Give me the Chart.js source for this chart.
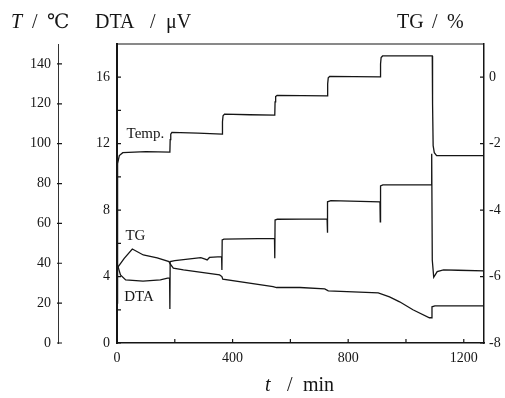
<!DOCTYPE html>
<html>
<head>
<meta charset="utf-8">
<script src="https://cdn.jsdelivr.net/npm/chart.js@4.4.0/dist/chart.umd.min.js"></script>
<style>
  html, body { margin: 0; padding: 0; background: #fff; }
</style>
</head>
<body>
<canvas id="chart" width="505" height="398"></canvas>
<script>
// ===== Data =====
// Temperature programme (left outer axis, degC)
const tempTime   = [0, 1, 3, 8, 20, 100, 183, 184, 186, 190, 280, 364, 365, 367, 372, 460, 546, 547, 549, 554, 640, 728, 729, 731, 736, 820, 911, 912, 914, 919, 1000, 1091, 1092, 1094, 1098, 1106, 1270];
const tempValues = [20, 70, 90, 94, 95.5, 96, 95.8, 102, 104.8, 105.7, 105.3, 104.8, 111, 114, 114.8, 114.5, 114.3, 121, 123.6, 124.2, 124.1, 124, 130, 133, 133.7, 133.6, 133.5, 140, 143.2, 144, 144, 144, 120, 99, 95.5, 94, 94];

// DTA signal (left inner axis, uV)
const dtaTime   = [0, 12, 30, 90, 150, 175, 182, 183, 184, 200, 290, 305, 312, 320, 362, 363, 364, 370, 545, 546, 547, 555, 727, 728, 729, 740, 910, 911, 912, 920, 1088, 1089, 1091, 1096, 1108, 1130, 1180, 1270];
const dtaValues = [4.8, 4.1, 3.8, 3.72, 3.8, 3.9, 3.9, 2.05, 4.9, 4.96, 5.14, 5.05, 5.0, 5.15, 5.2, 4.4, 6.2, 6.25, 6.3, 5.1, 7.4, 7.45, 7.47, 6.64, 8.5, 8.57, 8.5, 7.3, 9.45, 9.52, 9.52, 11.4, 5.0, 3.96, 4.3, 4.4, 4.38, 4.34];

// TG signal (right axis, %)
const tgTime   = [0, 25, 53, 91, 139, 180, 184, 195, 230, 355, 363, 366, 540, 552, 633, 719, 731, 904, 943, 978, 1024, 1081, 1088, 1090, 1100, 1270];
const tgValues = [-5.75, -5.45, -5.17, -5.35, -5.44, -5.55, -5.62, -5.75, -5.8, -5.95, -6.0, -6.08, -6.3, -6.33, -6.33, -6.37, -6.43, -6.49, -6.61, -6.76, -7.0, -7.24, -7.24, -6.91, -6.88, -6.88];

// Ticks
const timeTicks   = [0, 200, 400, 600, 800, 1000, 1200];
const timeLabels  = [0, 400, 800, 1200];
const tempTicks   = [0, 20, 40, 60, 80, 100, 120, 140];
const dtaTicks    = [0, 2, 4, 6, 8, 10, 12, 14, 16];
const dtaLabels   = [0, 4, 8, 12, 16];
const tgTicks     = [-8, -6, -4, -2, 0];

const ink = '#151515';
const serif = '"Liberation Serif", "DejaVu Serif", serif';

function toPoints(xs, ys) {
  return xs.map((x, i) => ({ x: x, y: ys[i] }));
}

// ===== Frame, inner ticks, titles and curve labels =====
const decorations = {
  id: 'decorations',
  afterDraw(chart) {
    const { ctx, chartArea, scales } = chart;
    ctx.save();
    ctx.strokeStyle = ink;
    ctx.lineWidth = 1.2;

    // top edge of the frame
    ctx.beginPath();
    ctx.moveTo(chartArea.left, chartArea.top);
    ctx.lineTo(chartArea.right, chartArea.top);
    ctx.stroke();

    // inner tick marks
    ctx.beginPath();
    timeTicks.forEach(v => {
      const px = scales.x.getPixelForValue(v);
      ctx.moveTo(px, chartArea.bottom);
      ctx.lineTo(px, chartArea.bottom - 4);
    });
    dtaTicks.forEach(v => {
      const py = scales.yDTA.getPixelForValue(v);
      ctx.moveTo(chartArea.left, py);
      ctx.lineTo(chartArea.left + 4, py);
    });
    tgTicks.forEach(v => {
      const py = scales.yTG.getPixelForValue(v);
      ctx.moveTo(chartArea.right, py);
      ctx.lineTo(chartArea.right - 4, py);
    });
    const tAxisX = scales.yT.right;
    tempTicks.forEach(v => {
      const py = scales.yT.getPixelForValue(v);
      ctx.moveTo(tAxisX - 1, py);
      ctx.lineTo(tAxisX + 4, py);
    });
    ctx.stroke();

    // axis titles
    ctx.fillStyle = ink;
    ctx.textBaseline = 'alphabetic';
    ctx.textAlign = 'left';
    ctx.font = 'italic 20px ' + serif;
    ctx.fillText('T', 11, 28);
    ctx.fillText('t', 265, 391);
    ctx.font = '20px ' + serif;
    ctx.fillText('/', 32, 28);
    ctx.fillText('℃', 47, 28);
    ctx.fillText('DTA', 95, 28);
    ctx.fillText('/', 150, 28);
    ctx.fillText('μV', 166, 28);
    ctx.fillText('TG', 397, 28);
    ctx.fillText('/', 432, 28);
    ctx.fillText('%', 447, 28);
    ctx.fillText('/', 287, 391);
    ctx.fillText('min', 303, 391);

    // curve labels
    ctx.font = '15px ' + serif;
    ctx.fillText('Temp.', scales.x.getPixelForValue(33), scales.yT.getPixelForValue(103));
    ctx.fillText('TG', scales.x.getPixelForValue(29), scales.yDTA.getPixelForValue(6.2));
    ctx.fillText('DTA', scales.x.getPixelForValue(25), scales.yDTA.getPixelForValue(2.5));
    ctx.restore();
  }
};

const lineStyle = {
  borderColor: ink,
  borderWidth: 1.3,
  pointRadius: 0,
  tension: 0,
  fill: false
};

const chart = new Chart(document.getElementById('chart').getContext('2d'), {
  type: 'line',
  data: {
    datasets: [
      Object.assign({ label: 'Temp.', data: toPoints(tempTime, tempValues), yAxisID: 'yT' }, lineStyle),
      Object.assign({ label: 'DTA', data: toPoints(dtaTime, dtaValues), yAxisID: 'yDTA' }, lineStyle),
      Object.assign({ label: 'TG', data: toPoints(tgTime, tgValues), yAxisID: 'yTG' }, lineStyle)
    ]
  },
  options: {
    responsive: false,
    animation: false,
    layout: { padding: { top: 44, left: 0, right: 0, bottom: 0 } },
    plugins: {
      legend: { display: false },
      tooltip: { enabled: false }
    },
    scales: {
      x: {
        type: 'linear',
        min: 0,
        max: 1270,
        afterBuildTicks: s => { s.ticks = timeTicks.map(v => ({ value: v })); },
        afterFit: s => { s.height = 55; },
        ticks: {
          autoSkip: false,
          maxRotation: 0,
          padding: 7,
          color: ink,
          font: { family: serif, size: 14 },
          callback: v => timeLabels.includes(v) ? v : ''
        },
        grid: { drawOnChartArea: false, drawTicks: false },
        border: { display: true, color: ink, width: 1.5 }
      },
      yT: {
        position: 'left',
        weight: 1,
        min: 0,
        max: 150,
        afterBuildTicks: s => { s.ticks = tempTicks.map(v => ({ value: v })); },
        afterFit: s => { s.width = 58; },
        ticks: {
          autoSkip: false,
          padding: 7,
          color: ink,
          font: { family: serif, size: 14 }
        },
        grid: { drawOnChartArea: false, drawTicks: false },
        border: { display: true, color: '#333', width: 1 }
      },
      yDTA: {
        position: 'left',
        weight: 0,
        min: 0,
        max: 18,
        afterBuildTicks: s => { s.ticks = dtaTicks.map(v => ({ value: v })); },
        afterFit: s => { s.width = 59; },
        ticks: {
          autoSkip: false,
          padding: 7,
          color: ink,
          font: { family: serif, size: 14 },
          callback: v => dtaLabels.includes(v) ? v : ''
        },
        grid: { drawOnChartArea: false, drawTicks: false },
        border: { display: true, color: ink, width: 2 }
      },
      yTG: {
        position: 'right',
        min: -8,
        max: 1,
        afterBuildTicks: s => { s.ticks = tgTicks.map(v => ({ value: v })); },
        afterFit: s => { s.width = 21; },
        ticks: {
          autoSkip: false,
          padding: 5,
          color: ink,
          font: { family: serif, size: 14 }
        },
        grid: { drawOnChartArea: false, drawTicks: false },
        border: { display: true, color: ink, width: 1.5 }
      }
    }
  },
  plugins: [decorations]
});
</script>
</body>
</html>
